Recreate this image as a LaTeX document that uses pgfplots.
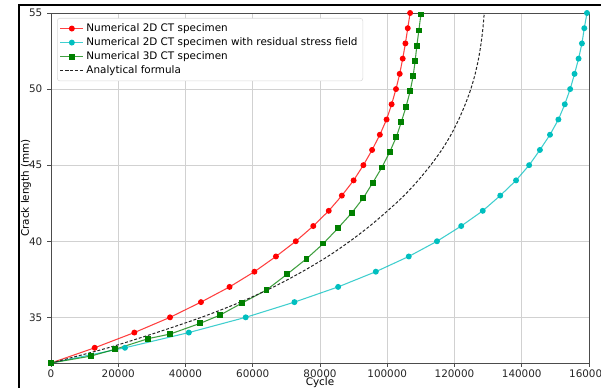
\documentclass[border=0pt]{standalone}
\usepackage{fontspec}
\setmainfont{DejaVu Sans}
\usepackage{pgfplots}
\pgfplotsset{compat=1.18}
\definecolor{mred}{RGB}{255,0,0}
\definecolor{mcyan}{RGB}{0,191,191}
\definecolor{mgreen}{RGB}{0,128,0}
\begin{document}
\begin{tikzpicture}
\clip (0,0) rectangle (450.75pt,291pt);
\fill[white] (0,0) rectangle (450.75pt,291pt);
\draw[line width=1.5pt] (14.25pt,-1pt) -- (14.25pt,287.25pt) -- (452pt,287.25pt);
\begin{axis}[
  at={(38.25pt,18.75pt)}, anchor=south west,
  scale only axis, width=403.5pt, height=262.5pt,
  xmin=0, xmax=160000, ymin=32, ymax=55,
  xtick={0,20000,...,160000}, ytick={35,40,45,50,55},
  scaled x ticks=false,
  /pgf/number format/fixed,
  /pgf/number format/1000 sep={},
  /pgf/number format/assume math mode=true,
  font=\fontsize{7.8}{9.4}\selectfont,
  tick label style={black!85},
  tick align=outside, major tick length=3pt,
  tick style={black!70, line width=0.5pt},
  xtick pos=bottom, ytick pos=left,
  axis line style={black!70, line width=0.6pt},
  grid=major, major grid style={black!18, line width=0.6pt},
  xticklabel style={yshift=1.5pt},
  xlabel={Cycle}, ylabel={Crack length (mm)},
  xlabel style={at={(axis description cs:0.5,0)}, anchor=center, yshift=-15pt},
  ylabel style={at={(axis description cs:0,0.5)}, anchor=center, yshift=18.75pt},
  legend style={at={(0,1)}, anchor=north west, xshift=4.5pt, yshift=-3.75pt,
    draw=black!15, rounded corners=2pt, fill=white, font=\fontsize{7.8}{9.4}\selectfont,
    row sep=-0.9pt, inner xsep=2pt, inner ysep=2pt},
  legend cell align=left,
]
\addplot[mred, line width=0.8pt, draw opacity=0.75, mark=*, mark size=1.8pt, mark options={fill=mred, draw=mred, opacity=1}] coordinates {
(0,32) (13000,33) (24800,34) (35400,35) (44600,36) (53100,37) (60500,38) (66900,39)
(72800,40) (78000,41) (82600,42) (86500,43) (90000,44) (92900,45) (95500,46) (97800,47)
(99800,48) (101300,49) (102600,50) (103700,51) (104600,52) (105400,53) (106100,54) (106800,55)};
\addlegendentry{Numerical 2D CT specimen}
\addplot[mcyan, line width=0.8pt, draw opacity=0.75, mark=*, mark size=1.8pt, mark options={fill=mcyan, draw=mcyan, opacity=1}] coordinates {
(0,32) (22000,33) (41000,34) (57900,35) (72400,36) (85400,37) (96600,38) (106400,39)
(114800,40) (122000,41) (128400,42) (133600,43) (138300,44) (142200,45) (145400,46) (148400,47)
(150900,48) (152800,49) (154400,50) (155700,51) (156900,52) (157900,53) (158600,54) (159400,55)};
\addlegendentry{Numerical 2D CT specimen with residual stress field}
\addplot[mgreen, line width=0.8pt, draw opacity=0.75, mark=square*, mark size=1.8pt, mark options={fill=mgreen, draw=mgreen, opacity=1}] coordinates {
(0,32) (11800,32.45) (19000,32.9) (28900,33.6) (35400,33.9) (44300,34.6) (50300,35.15)
(56900,35.95) (64100,36.8) (70300,37.85) (76000,38.85) (81000,39.85) (85300,40.85)
(89400,41.85) (92900,42.85) (95700,43.85) (98400,44.85) (100700,45.85) (102700,46.85)
(104200,47.85) (105600,48.85) (106800,49.85) (107700,50.85) (108300,51.85) (108800,52.85)
(109400,53.85) (110000,54.9)};
\addlegendentry{Numerical 3D CT specimen}
\addplot[black!85, line width=0.75pt, dash pattern=on 2.2pt off 1.4pt, smooth, tension=0.5] coordinates {
(0,32) (17000,33) (31400,34) (44700,35) (56300,36) (66200,37) (74700,38) (82300,39)
(88900,40) (94800,41) (100100,42) (105000,43) (109200,44) (112900,45) (116200,46)
(118950,47) (121250,48) (123200,49) (124850,50) (126150,51) (127150,52) (127900,53)
(128450,54) (128850,55)};
\addlegendentry{Analytical formula}
\end{axis}
\end{tikzpicture}
\end{document}
